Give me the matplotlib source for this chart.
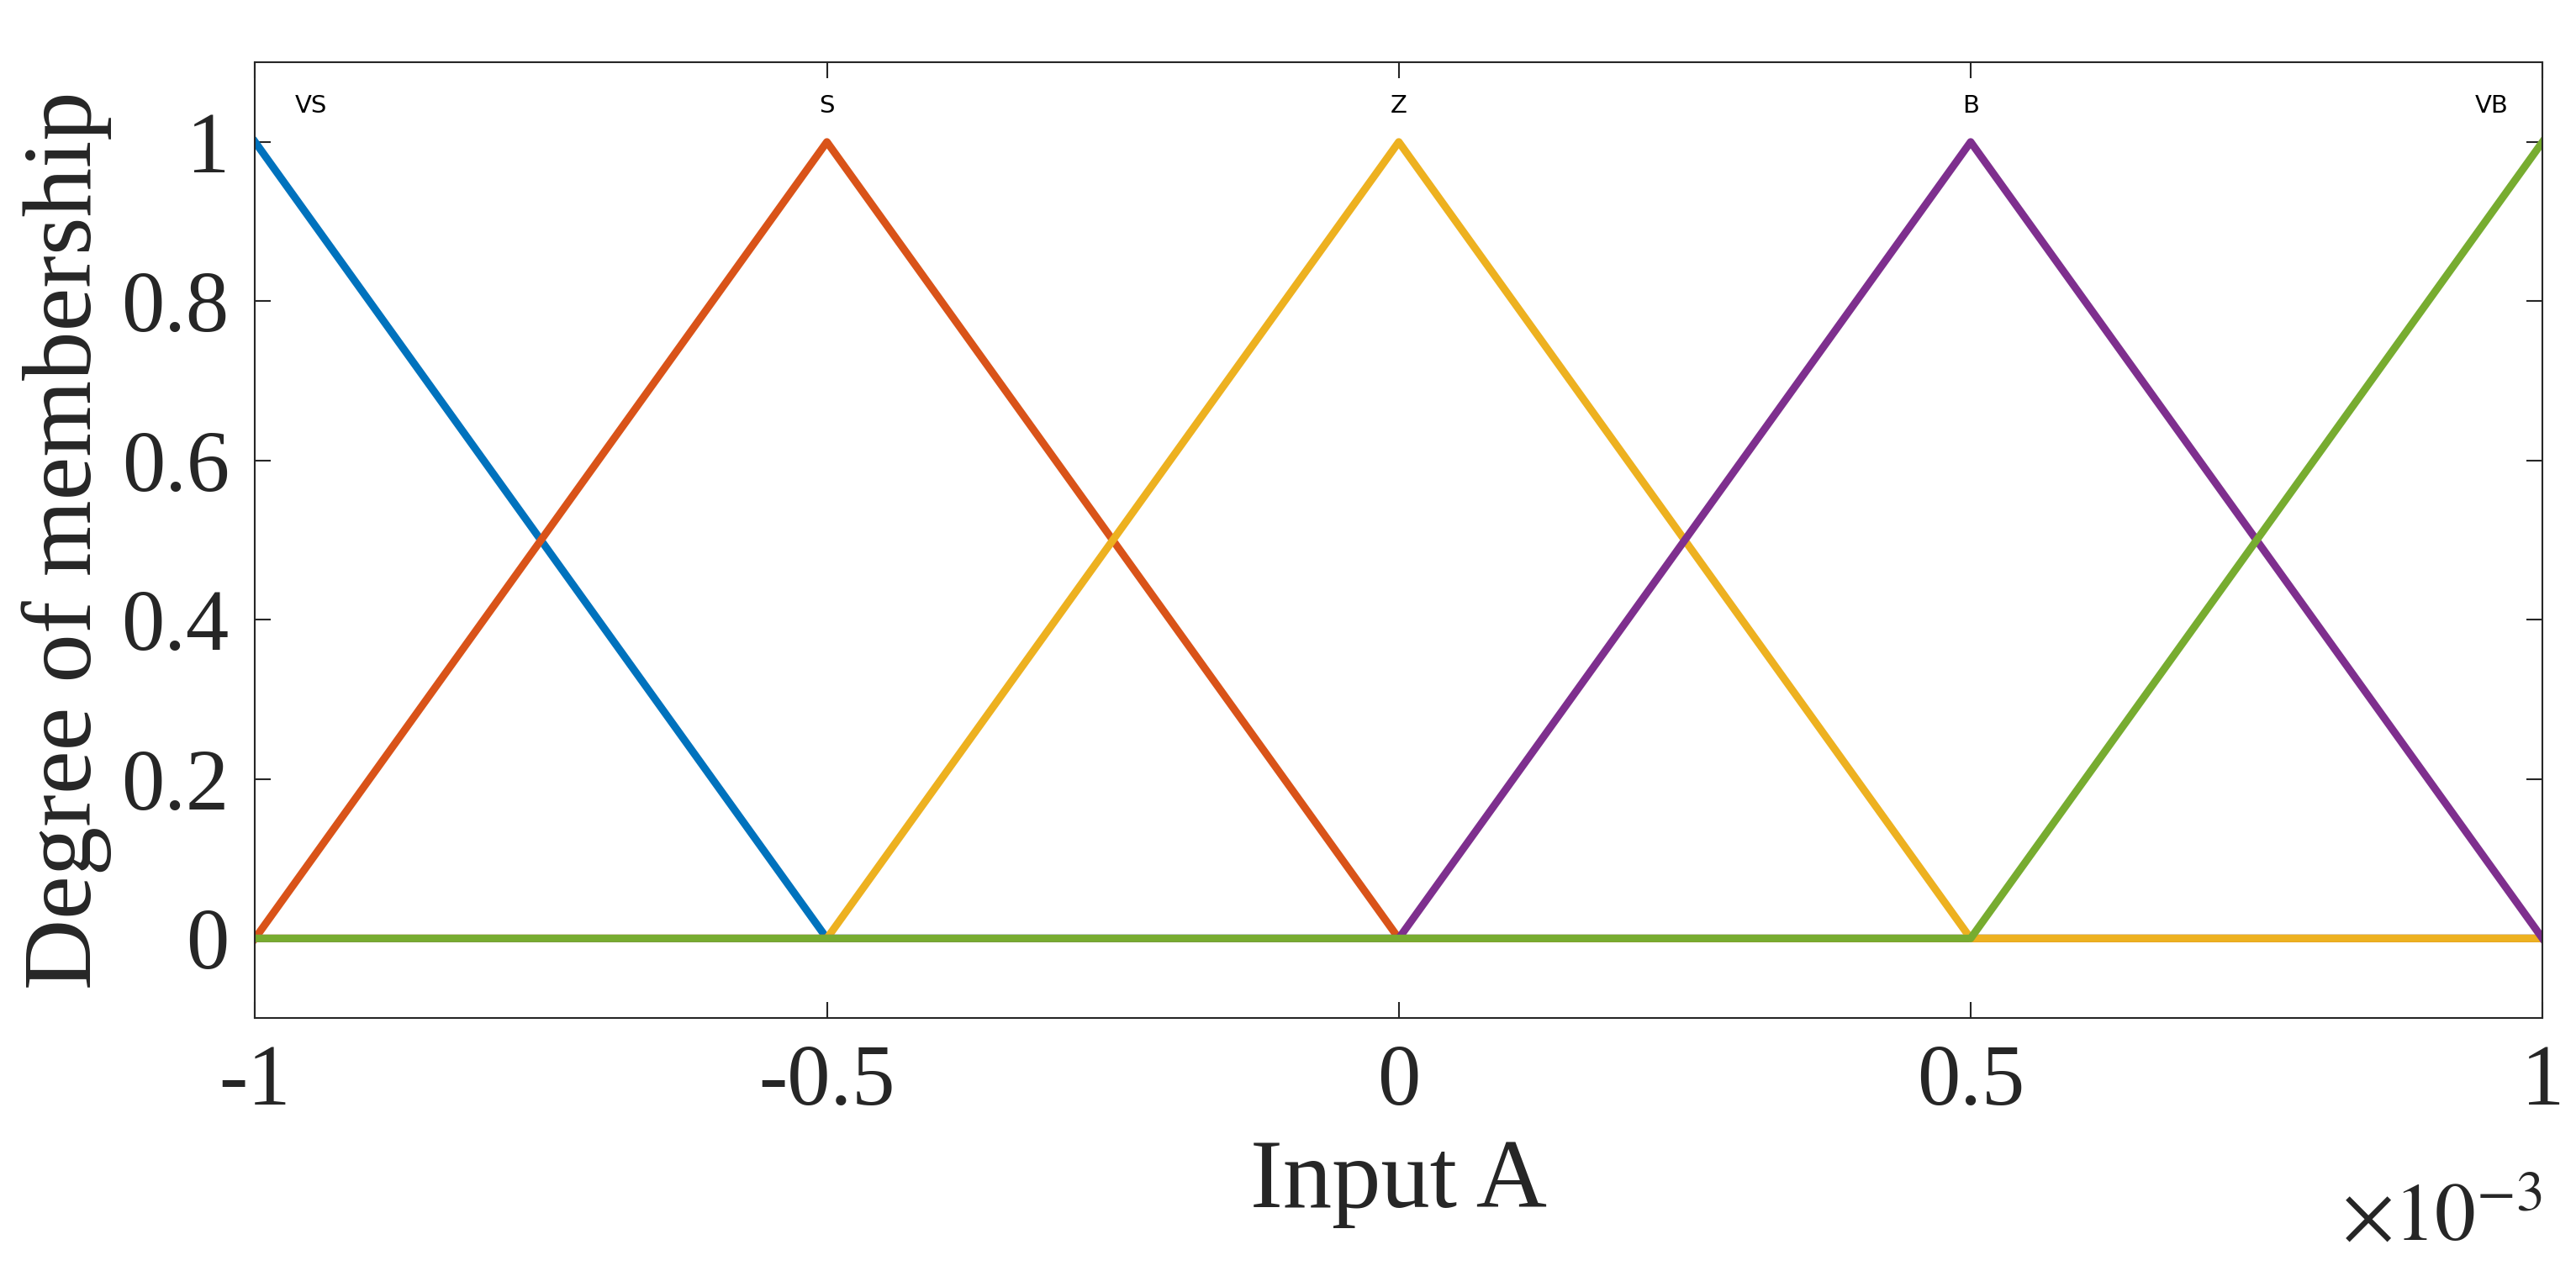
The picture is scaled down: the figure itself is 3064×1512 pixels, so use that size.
import matplotlib.pyplot as plt

plt.rcParams['font.family'] = ['Liberation Serif', 'DejaVu Serif']
plt.rcParams['mathtext.fontset'] = 'stix'

# membership functions (x in units of input A, real scale 1e-3)
names = ['VS', 'S', 'Z', 'B', 'VB']
peaks = [-1e-3, -0.5e-3, 0.0, 0.5e-3, 1e-3]
xs = [-1e-3, -0.5e-3, 0.0, 0.5e-3, 1e-3]
mfs = [
    [1, 0, 0, 0, 0],
    [0, 1, 0, 0, 0],
    [0, 0, 1, 0, 0],
    [0, 0, 0, 1, 0],
    [0, 0, 0, 0, 1],
]
colors = ['#0072BD', '#D95319', '#EDB120', '#7E2F8E', '#77AC30']
scale = 1e-3

fig = plt.figure(figsize=(30.64, 15.12), dpi=100)
ax = fig.add_axes([0.099, 0.199, 0.888, 0.752])
for name, ys, c in zip(names, mfs, colors):
    ax.plot([x / scale for x in xs], ys, color=c, lw=6.5)

for name, p in zip(names, peaks):
    ha = 'center'
    xp = p / scale
    if name == 'VS':
        ha, xp = 'left', xp + 0.035
    if name == 'VB':
        ha, xp = 'right', xp - 0.03
    ax.text(xp, 1.045, name, ha=ha, va='center', fontsize=21, family='DejaVu Sans')

ax.set_xlim(-1, 1)
ax.set_ylim(-0.1, 1.1)
ax.set_xticks([-1, -0.5, 0, 0.5, 1])
ax.set_xticklabels(['-1', '-0.5', '0', '0.5', '1'])
ax.set_yticks([0, 0.2, 0.4, 0.6, 0.8, 1])
ax.set_yticklabels(['0', '0.2', '0.4', '0.6', '0.8', '1'])
ax.tick_params(direction='in', top=True, right=True, labelsize=74, length=14, width=1.5, pad=22, colors='#262626')
for s in ax.spines.values():
    s.set_linewidth(1.5)
    s.set_color('#262626')
ax.set_xlabel('Input A', fontsize=84, color='#262626', labelpad=14)
ax.set_ylabel('Degree of membership', fontsize=84, color='#262626', labelpad=8)
fig.text(0.987, 0.01, r'$\times 10^{-3}$', ha='right', va='bottom', fontsize=70, color='#262626')

fig.savefig('out.png', dpi=100)
